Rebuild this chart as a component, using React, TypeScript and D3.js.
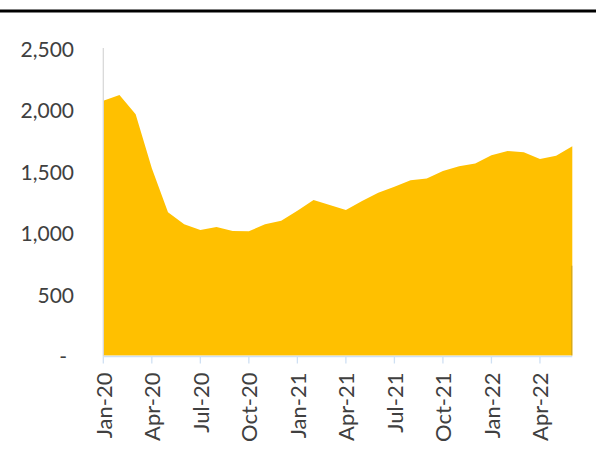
import React from "react";
import * as d3 from "d3";

const months = [
  "Jan-20","Feb-20","Mar-20","Apr-20","May-20","Jun-20","Jul-20","Aug-20","Sep-20","Oct-20","Nov-20","Dec-20",
  "Jan-21","Feb-21","Mar-21","Apr-21","May-21","Jun-21","Jul-21","Aug-21","Sep-21","Oct-21","Nov-21","Dec-21",
  "Jan-22","Feb-22","Mar-22","Apr-22","May-22","Jun-22",
];
const values = [
  2071, 2118, 1961, 1522, 1164, 1067, 1020, 1045, 1012, 1010, 1067, 1096,
  1177, 1264, 1223, 1183, 1256, 1324, 1372, 1424, 1440, 1500, 1538, 1560,
  1628, 1663, 1652, 1598, 1624, 1701,
];
const yTicks = [0, 500, 1000, 1500, 2000, 2500];
const xTickLabels = ["Jan-20","Apr-20","Jul-20","Oct-20","Jan-21","Apr-21","Jul-21","Oct-21","Jan-22","Apr-22"];
const edgeValue = 730;

const W = 596, H = 450;
const left = 103.3, right = 572.3, top = 48, bottom = 355.5;
const font = "Lato, 'Open Sans', sans-serif";
const textColor = "#404040";

export default function App() {
  const x = d3.scaleLinear().domain([0, months.length - 1]).range([left, right]);
  const y = d3.scaleLinear().domain([0, 2500]).range([bottom, top]);
  const area = d3.area<number>()
    .x((_, i) => x(i))
    .y0(y(0))
    .y1((d) => y(d));
  const fmt = d3.format(",");
  const lastX = x(months.length - 1);
  return (
    <div style={{ position: "absolute", left: 0, top: 0 }}>
      <svg width={W} height={H} style={{ display: "block" }}>
        <rect x={0} y={0} width={W} height={H} fill="#fff" />
        <line x1={0} x2={W} y1={11} y2={11} stroke="#000" strokeWidth={2.8} />
        <path d={area(values) || ""} fill="#FFC000" />
        <line x1={lastX - 0.5} x2={lastX - 0.5} y1={y(edgeValue)} y2={y(0)} stroke="#c9a220" strokeWidth={1} />
        {/* y axis */}
        <line x1={left} x2={left} y1={top} y2={bottom + 1} stroke="#d9d9d9" strokeWidth={1.3} />
        {/* x axis */}
        <line x1={left} x2={right} y1={bottom + 1} y2={bottom + 1} stroke="#cfe0f3" strokeWidth={1.3} />
        {xTickLabels.map((lab) => {
          const i = months.indexOf(lab);
          const xx = x(i);
          return (
            <g key={lab}>
              <line x1={xx} x2={xx} y1={bottom + 1} y2={bottom + 8} stroke="#cfe0f3" strokeWidth={1.3} />
              <text
                transform={`translate(${xx},${372.5}) rotate(-90)`}
                textAnchor="end"
                dominantBaseline="central"
                fontFamily={font}
                fontSize={22}
                fill={textColor}
              >
                {lab}
              </text>
            </g>
          );
        })}
        {yTicks.map((t) => (
          <text
            key={t}
            x={t === 0 ? 67 : 74}
            y={y(t)}
            textAnchor="end"
            dominantBaseline="central"
            fontFamily={font}
            fontSize={21}
            fill={textColor}
          >
            {t === 0 ? "-" : fmt(t)}
          </text>
        ))}
      </svg>
    </div>
  );
}
